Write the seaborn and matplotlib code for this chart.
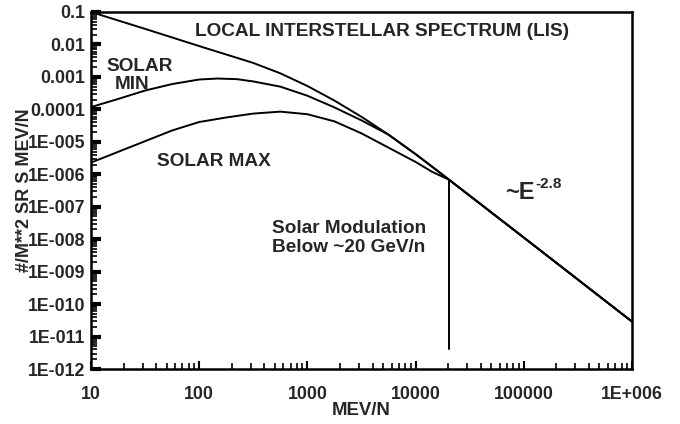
import numpy as np
import pandas as pd
import matplotlib
matplotlib.use("Agg")
import matplotlib.pyplot as plt
from matplotlib.ticker import FixedLocator, FixedFormatter, NullFormatter, LogLocator
import seaborn as sns

# spectra, as log10(MeV/n) and log10(#/m^2 sr s MeV/n)
log_e_lis = [1, 1.5, 2, 2.25, 2.5, 2.75, 3, 3.25, 3.5, 3.75, 4, 4.15, 4.31, 5, 6]
log_f_lis = [-1, -1.52, -2.05, -2.31, -2.57, -2.89, -3.28, -3.73, -4.23, -4.78, -5.38, -5.76,
             -6.17, -7.95, -10.54]

log_e_min = [1, 1.25, 1.5, 1.75, 2, 2.17, 2.35, 2.5, 2.75, 3, 3.25, 3.5, 3.75, 4, 4.15, 4.31, 5, 6]
log_f_min = [-3.93, -3.68, -3.42, -3.22, -3.08, -3.05, -3.07, -3.14, -3.30, -3.58, -3.94, -4.34,
             -4.78, -5.38, -5.76, -6.17, -7.95, -10.54]

log_e_max = [1, 1.25, 1.5, 1.75, 2, 2.25, 2.5, 2.75, 3, 3.25, 3.5, 3.75, 4, 4.15, 4.31, 5, 6]
log_f_max = [-5.64, -5.31, -4.98, -4.65, -4.39, -4.25, -4.13, -4.07, -4.15, -4.37, -4.74, -5.18,
             -5.62, -5.92, -6.17, -7.95, -10.54]

# vertical marker at ~20 GeV/n
cutoff_energy = [20400, 20400]
cutoff_flux = [4e-12, 6.8e-7]

x_ticks = [10, 100, 1000, 10000, 100000, 1000000]
x_labels = ["10", "100", "1000", "10000", "100000", "1E+006"]
y_ticks = [1e-1, 1e-2, 1e-3, 1e-4, 1e-5, 1e-6, 1e-7, 1e-8, 1e-9, 1e-10, 1e-11, 1e-12]
y_labels = ["0.1", "0.01", "0.001", "0.0001", "1E-005", "1E-006", "1E-007",
            "1E-008", "1E-009", "1E-010", "1E-011", "1E-012"]

sns.set_style("white")
plt.rcParams["font.family"] = ["Liberation Sans", "DejaVu Sans"]
plt.rcParams["font.weight"] = "bold"

frames = []
for name, le, lf in [("LIS", log_e_lis, log_f_lis),
                     ("Solar Min", log_e_min, log_f_min),
                     ("Solar Max", log_e_max, log_f_max)]:
    frames.append(pd.DataFrame({"energy": np.power(10.0, le),
                                "flux": np.power(10.0, lf),
                                "spectrum": name}))
df = pd.concat(frames, ignore_index=True)

fig = plt.figure(figsize=(6.8, 4.24), dpi=100)
ax = fig.add_axes([91 / 680, 1 - 369 / 424, 541 / 680, 357 / 424])

ax.set_xscale("log")
ax.set_yscale("log")
sns.lineplot(data=df, x="energy", y="flux", hue="spectrum", units="spectrum",
             estimator=None, sort=False, palette=["black"] * 3,
             linewidth=1.4, legend=False, ax=ax)
sns.lineplot(x=cutoff_energy, y=cutoff_flux, color="black", linewidth=1.4,
             estimator=None, sort=False, ax=ax)

ax.set_xlim(10, 1e6)
ax.set_ylim(1e-12, 1e-1)

ax.xaxis.set_major_locator(FixedLocator(x_ticks))
ax.xaxis.set_major_formatter(FixedFormatter(x_labels))
ax.yaxis.set_major_locator(FixedLocator(y_ticks))
ax.yaxis.set_major_formatter(FixedFormatter(y_labels))
ax.xaxis.set_minor_locator(LogLocator(base=10, subs=np.arange(2, 10), numticks=20))
ax.yaxis.set_minor_locator(LogLocator(base=10, subs=np.arange(2, 10), numticks=30))
ax.xaxis.set_minor_formatter(NullFormatter())
ax.yaxis.set_minor_formatter(NullFormatter())

ax.tick_params(axis="both", which="major", direction="in", labelsize=12.8,
               color="black", top=False, right=False, left=True, bottom=True)
ax.tick_params(axis="y", which="major", length=7, width=3, pad=4)
ax.tick_params(axis="x", which="major", length=6, width=1.5, pad=12)
ax.tick_params(axis="both", which="minor", direction="in", length=4, width=1.2,
               color="black", top=False, right=False, left=True, bottom=True)
for lab in ax.get_xticklabels() + ax.get_yticklabels():
    lab.set_fontweight("bold")

for s in ax.spines.values():
    s.set_linewidth(1.8)
    s.set_color("black")

ax.set_xlabel("MEV/N", fontsize=13.4, fontweight="bold")
ax.set_ylabel("#/M**2 SR S MEV/N", fontsize=13, fontweight="bold")
ax.xaxis.set_label_coords(0.5, -0.092)
ax.yaxis.set_label_coords(-0.107, 0.5)

note = 13.7
ax.text(0.192, 0.944, "LOCAL INTERSTELLAR SPECTRUM (LIS)", transform=ax.transAxes,
        fontsize=note, fontweight="bold", ha="left", va="center")
ax.text(0.0906, 0.847, "SOLAR", transform=ax.transAxes, fontsize=note,
        fontweight="bold", ha="center", va="center")
ax.text(0.0767, 0.798, "MIN", transform=ax.transAxes, fontsize=note,
        fontweight="bold", ha="center", va="center")
ax.text(0.2264, 0.581, "SOLAR MAX", transform=ax.transAxes, fontsize=note,
        fontweight="bold", ha="center", va="center")
ax.text(0.3346, 0.367, "Solar Modulation\nBelow ~20 GeV/n", transform=ax.transAxes,
        fontsize=note, fontweight="bold", ha="left", va="center", linespacing=1.15)
ax.text(0.765, 0.494, "~E", transform=ax.transAxes, fontsize=17,
        fontweight="bold", ha="left", va="center")
ax.text(0.8207, 0.518, "-2.8", transform=ax.transAxes, fontsize=11,
        fontweight="bold", ha="left", va="center")

fig.patch.set_facecolor("white")
fig.savefig("out.png", dpi=100, facecolor="white")
plt.close(fig)
